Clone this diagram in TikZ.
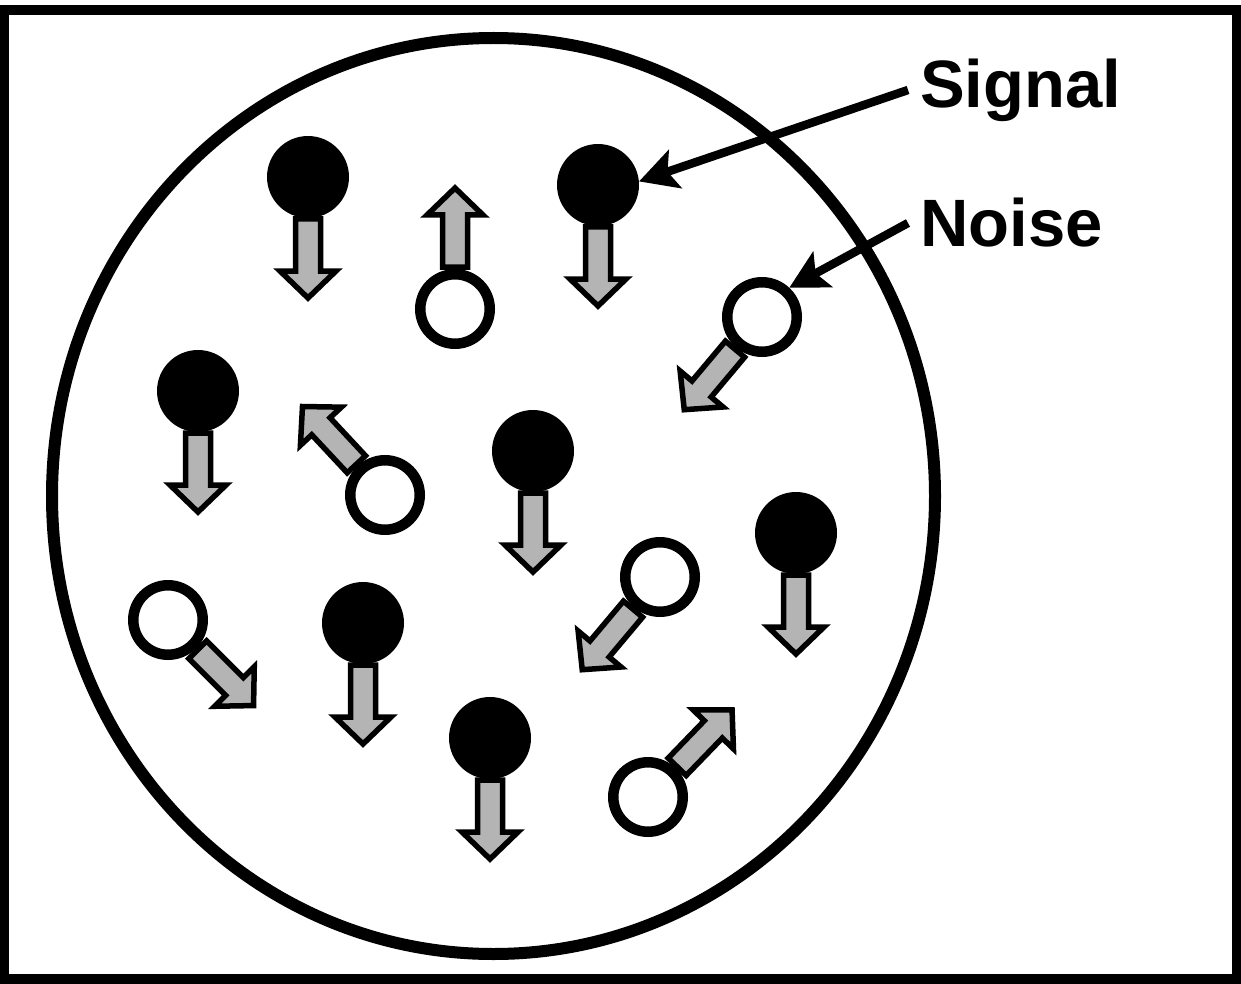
\documentclass[tikz,border=0pt]{standalone}
\usepackage{fontspec}
\setmainfont{Liberation Sans}
\usetikzlibrary{arrows.meta}
\definecolor{arrowgray}{RGB}{180,180,180}
\tikzset{
  signal/.style={circle, fill=black, minimum size=82pt, inner sep=0pt},
  noise/.style={circle, draw=black, fill=white, line width=10.5pt, minimum size=69.5pt, inner sep=0pt},
  blockarrow/.style={draw=black, fill=arrowgray, line width=5.5pt, line join=miter},
  label/.style={font=\fontsize{67}{72}\selectfont\bfseries, anchor=west, inner xsep=12pt, inner ysep=0pt},
  pointer/.style={line width=8.5pt, -{Stealth[length=38pt,width=40pt,inset=8pt]}}
}
\newcommand\barrow[2]{%
  \begin{scope}[shift={(#1.center)},rotate=#2]
    \draw[blockarrow] (42,-12.5) -- (94,-12.5) -- (94,-28) -- (121,0) -- (94,28) -- (94,12.5) -- (42,12.5) -- cycle;
  \end{scope}}
\begin{document}
\begin{tikzpicture}[x=1pt,y=-1pt]
\useasboundingbox (0,0) rectangle (1241,984);
\fill[white] (0,0) rectangle (1241,984);
% frame
\draw[line width=10.5pt] (4,10) rectangle (1237,979);
% big circle
\draw[line width=12pt] (493.5,496) ellipse [x radius=441.5, y radius=458];
% signal particles
\node[signal] (s1) at (308,177) {};
\node[signal] (s2) at (598,185) {};
\node[signal] (s3) at (198,391) {};
\node[signal] (s4) at (533,451) {};
\node[signal] (s5) at (796,533) {};
\node[signal] (s6) at (363,623) {};
\node[signal] (s7) at (490,738) {};
% noise particles
\node[noise] (n1) at (455,309) {};
\node[noise] (n2) at (762,317) {};
\node[noise] (n3) at (385,495) {};
\node[noise] (n4) at (168,620) {};
\node[noise] (n5) at (660,577) {};
\node[noise] (n6) at (648,797) {};
% spin arrows
\barrow{s1}{-90}
\barrow{s2}{-90}
\barrow{s3}{-90}
\barrow{s4}{-90}
\barrow{s5}{-90}
\barrow{s6}{-90}
\barrow{s7}{-90}
\barrow{n1}{90}
\barrow{n2}{230}
\barrow{n3}{133}
\barrow{n4}{-45}
\barrow{n5}{230}
\barrow{n6}{46}
% labels
\node[label] (siglabel) at (908,90) {Signal};
\node[label] (noiselabel) at (908,223) {Noise};
\draw[pointer] (siglabel.west) -- (s2.5);
\draw[pointer] (noiselabel.west) -- (n2.47);
\end{tikzpicture}
\end{document}
